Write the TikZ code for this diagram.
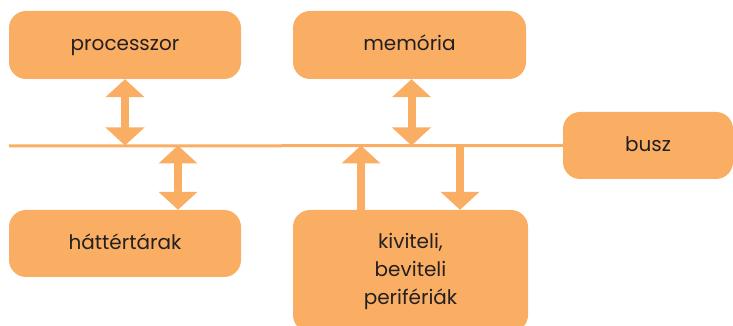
\documentclass[tikz,border=0pt]{standalone}
\usepackage{fontspec}
\setmainfont{Poppins}
\usetikzlibrary{arrows.meta}
\definecolor{unitorange}{RGB}{250,174,100}
\definecolor{unittext}{RGB}{35,31,32}

\begin{document}
\begin{tikzpicture}[
		x=1pt, y=1pt,
		unit/.style={fill=unitorange, rounded corners=17pt, text=unittext, inner sep=0pt,
			align=center, font=\fontsize{20}{28}\selectfont},
		one line/.style={text height=16pt, text depth=4pt},
		bus line/.style={draw=unitorange, line width=3pt},
		both arrow/.style={draw=unitorange, line width=8pt, {Triangle[width=38pt, length=18pt]}-{Triangle[width=38pt, length=18pt]}},
		one arrow/.style={draw=unitorange, line width=8pt, -{Triangle[width=38pt, length=18pt]}}
		]

	\useasboundingbox (0, 0) rectangle (733, 326);

	% Units
	\node[unit, one line, minimum width=232pt, minimum height=68pt] (proc) at (125, 281) {processzor};
	\node[unit, one line, minimum width=233pt, minimum height=68pt] (mem) at (409.5, 281) {memória};
	\node[unit, one line, minimum width=170pt, minimum height=67pt] (bus) at (648, 180.5) {busz};
	\node[unit, one line, minimum width=232pt, minimum height=67pt] (store) at (125, 82.5) {háttértárak};
	\node[unit, minimum width=235pt, minimum height=122pt] (io) at (410.5, 55) {kiviteli,\\beviteli\\perifériák};

	% Bus
	\coordinate (bus start) at (9, 180);
	\draw[bus line] (bus start) -- (bus.west);

	% Arrows to the bus
	\draw[both arrow] (proc.south) -- (proc.south |- bus.west);
	\draw[both arrow] ([xshift=2pt]mem.south) -- ([xshift=2pt]mem.south |- bus.west);
	\draw[both arrow] ([xshift=53pt]store.north) -- ([xshift=53pt]store.north |- bus.west);
	\draw[one arrow] ([xshift=-49.5pt]io.north) -- ([xshift=-49.5pt]io.north |- bus.west);
	\draw[one arrow] ([xshift=49.5pt]io.north |- bus.west) -- ([xshift=49.5pt]io.north);

\end{tikzpicture}
\end{document}
